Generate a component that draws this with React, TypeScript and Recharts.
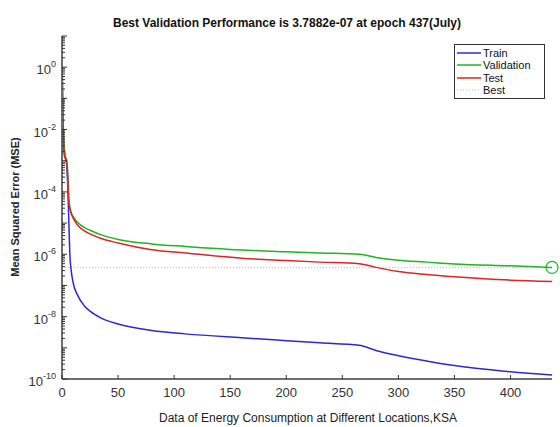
import React from 'react';
import { LineChart, Line, XAxis, YAxis, ReferenceLine, ReferenceDot, Legend } from 'recharts';

// training record, one entry per sampled epoch
const EPOCHS = [0, 1, 2, 3, 4, 5, 6, 7, 8, 10, 14, 20, 25, 35, 50, 80, 110, 160, 200, 230, 265, 280, 300, 325, 350, 400, 437];
const TRAIN = [0.2, 5e-3, 2e-3, 1.2e-3, 8e-4, 2e-4, 1.5e-5, 1e-6, 3.5e-7, 1.2e-7, 4.8e-8, 2.2e-8, 1.5e-8, 9e-9, 5.8e-9, 3.6e-9, 2.8e-9, 2.1e-9, 1.7e-9, 1.45e-9, 1.2e-9, 8.2e-10, 5.6e-10, 3.8e-10, 2.7e-10, 1.7e-10, 1.34e-10];
const VALIDATION = [1.8, 2e-2, 3e-3, 1.4e-3, 1.1e-3, 4e-4, 6e-5, 3.2e-5, 2.3e-5, 1.6e-5, 1.05e-5, 7.2e-6, 5.9e-6, 4.2e-6, 3.0e-6, 2.15e-6, 1.78e-6, 1.37e-6, 1.2e-6, 1.1e-6, 1.0e-6, 7.9e-7, 6.4e-7, 5.6e-7, 4.9e-7, 4.25e-7, 3.7882e-7];
const TEST = [2.4, 1.5e-2, 1.5e-3, 1.2e-3, 1.0e-3, 4e-4, 5.5e-5, 3e-5, 2.1e-5, 1.45e-5, 8.5e-6, 5.6e-6, 4.5e-6, 3.2e-6, 2.3e-6, 1.4e-6, 1.1e-6, 7.5e-7, 6.3e-7, 5.6e-7, 5.0e-7, 3.8e-7, 2.8e-7, 2.25e-7, 1.9e-7, 1.48e-7, 1.35e-7];

const BEST_EPOCH = 437;
const BEST_PERF = 3.7882e-7;

const X_TICKS = [0, 50, 100, 150, 200, 250, 300, 350, 400];
const Y_MIN_EXP = -10;
const Y_MAX_EXP = 1;

const BLUE = '#2a2ad0';
const GREEN = '#1fb51f';
const RED = '#d92626';
const BEST_GRAY = '#bdbdbd';
const AXIS = '#6e6e6e';
const FONT = 'Arial, "Liberation Sans", sans-serif';

const W = 560;
const H = 427;
const PLOT_LEFT = 62;
const PLOT_BOTTOM = 379;

const LEGEND_ITEMS = [
  { label: 'Train', color: BLUE, dash: undefined },
  { label: 'Validation', color: GREEN, dash: undefined },
  { label: 'Test', color: RED, dash: undefined },
  { label: 'Best', color: BEST_GRAY, dash: '1 2' },
];

// decade ticks plus the 2..9 minor ticks of a log axis
const yTicks: number[] = [];
for (let d = Y_MIN_EXP; d < Y_MAX_EXP; d++) {
  for (let m = 1; m <= 9; m++) yTicks.push(Number((m * Math.pow(10, d)).toPrecision(3)));
}
yTicks.push(Math.pow(10, Y_MAX_EXP));

const data = EPOCHS.map((epoch, i) => ({
  epoch,
  train: TRAIN[i],
  validation: VALIDATION[i],
  test: TEST[i],
}));

const YTick = (props: any) => {
  const { y, payload } = props;
  const exp = Math.log10(payload.value);
  const e = Math.round(exp);
  const isDecade = Math.abs(exp - e) < 1e-6;
  const len = isDecade ? 5 : 3;
  return (
    <g>
      <line x1={PLOT_LEFT} x2={PLOT_LEFT + len} y1={y} y2={y} stroke="#333" strokeWidth={1} />
      {isDecade && e % 2 === 0 && e <= 0 && (
        <text x={56} y={y + 7} textAnchor="end" fontFamily={FONT} fontSize={13} fill="#333">
          10<tspan dy={-7} fontSize={9}>{e}</tspan>
        </text>
      )}
    </g>
  );
};

const XTick = (props: any) => {
  const { x, payload } = props;
  return (
    <g>
      <line x1={x} x2={x} y1={PLOT_BOTTOM} y2={PLOT_BOTTOM - 4} stroke="#333" strokeWidth={1} />
      <text x={x} y={PLOT_BOTTOM + 18} textAnchor="middle" fontFamily={FONT} fontSize={13} fill="#333">
        {payload.value}
      </text>
    </g>
  );
};

const LegendBox = () => (
  <div
    style={{
      border: '1px solid #333',
      background: '#fff',
      padding: '2px 0 2px 2px',
      fontFamily: FONT,
      fontSize: 11,
      lineHeight: '12.3px',
      color: '#111',
    }}
  >
    {LEGEND_ITEMS.map((item) => (
      <div key={item.label} style={{ display: 'flex', alignItems: 'center' }}>
        <svg width={24} height={8} style={{ marginRight: 2 }}>
          <line x1={0} x2={24} y1={4} y2={4} stroke={item.color} strokeWidth={item.dash ? 1 : 1.5} strokeDasharray={item.dash} />
        </svg>
        <span>{item.label}</span>
      </div>
    ))}
  </div>
);

export default function App() {
  return (
    <div style={{ position: 'absolute', left: 0, top: 0, width: W, height: H, background: '#fff' }}>
      <LineChart width={W} height={H} data={data} margin={{ top: 36, right: 8, left: 0, bottom: 0 }}>
        <XAxis
          dataKey="epoch"
          type="number"
          domain={[0, 437]}
          ticks={X_TICKS}
          interval={0}
          height={48}
          tickLine={false}
          axisLine={{ stroke: AXIS, strokeWidth: 2 }}
          tick={<XTick />}
        />
        <YAxis
          type="number"
          scale="log"
          domain={[Math.pow(10, Y_MIN_EXP), Math.pow(10, Y_MAX_EXP)]}
          allowDataOverflow
          ticks={yTicks}
          interval={0}
          width={62}
          tickLine={false}
          axisLine={{ stroke: AXIS, strokeWidth: 2 }}
          tick={<YTick />}
        />
        <ReferenceLine y={BEST_PERF} stroke={BEST_GRAY} strokeWidth={1} strokeDasharray="1 2" />
        <Line type="monotone" dataKey="train" stroke={BLUE} strokeWidth={1.5} dot={false} isAnimationActive={false} />
        <Line type="monotone" dataKey="validation" stroke={GREEN} strokeWidth={1.5} dot={false} isAnimationActive={false} />
        <Line type="monotone" dataKey="test" stroke={RED} strokeWidth={1.5} dot={false} isAnimationActive={false} />
        <ReferenceDot
          x={BEST_EPOCH}
          y={BEST_PERF}
          r={6}
          fill="none"
          stroke={GREEN}
          strokeWidth={1.2}
          ifOverflow="visible"
        />
        <Legend
          layout="vertical"
          align="center"
          verticalAlign="middle"
          content={<LegendBox />}
          wrapperStyle={{ top: 44, left: 454, width: 91 }}
        />
      </LineChart>
      <svg width={W} height={H} style={{ position: 'absolute', left: 0, top: 0, pointerEvents: 'none' }}>
        <text
          x={287}
          y={27}
          textAnchor="middle"
          fontFamily={FONT}
          fontSize={12.5}
          fontWeight="bold"
          fill="#111"
          textLength={348}
          lengthAdjust="spacingAndGlyphs"
        >
          Best Validation Performance is 3.7882e-07 at epoch 437(July)
        </text>
        <text
          x={0}
          y={0}
          transform="translate(19,207) rotate(-90)"
          textAnchor="middle"
          fontFamily={FONT}
          fontSize={11}
          fontWeight="bold"
          fill="#222"
        >
          Mean Squared Error  (MSE)
        </text>
        <text x={308} y={422} textAnchor="middle" fontFamily={FONT} fontSize={12} fill="#222">
          Data of Energy Consumption at Different Locations,KSA
        </text>
      </svg>
    </div>
  );
}
